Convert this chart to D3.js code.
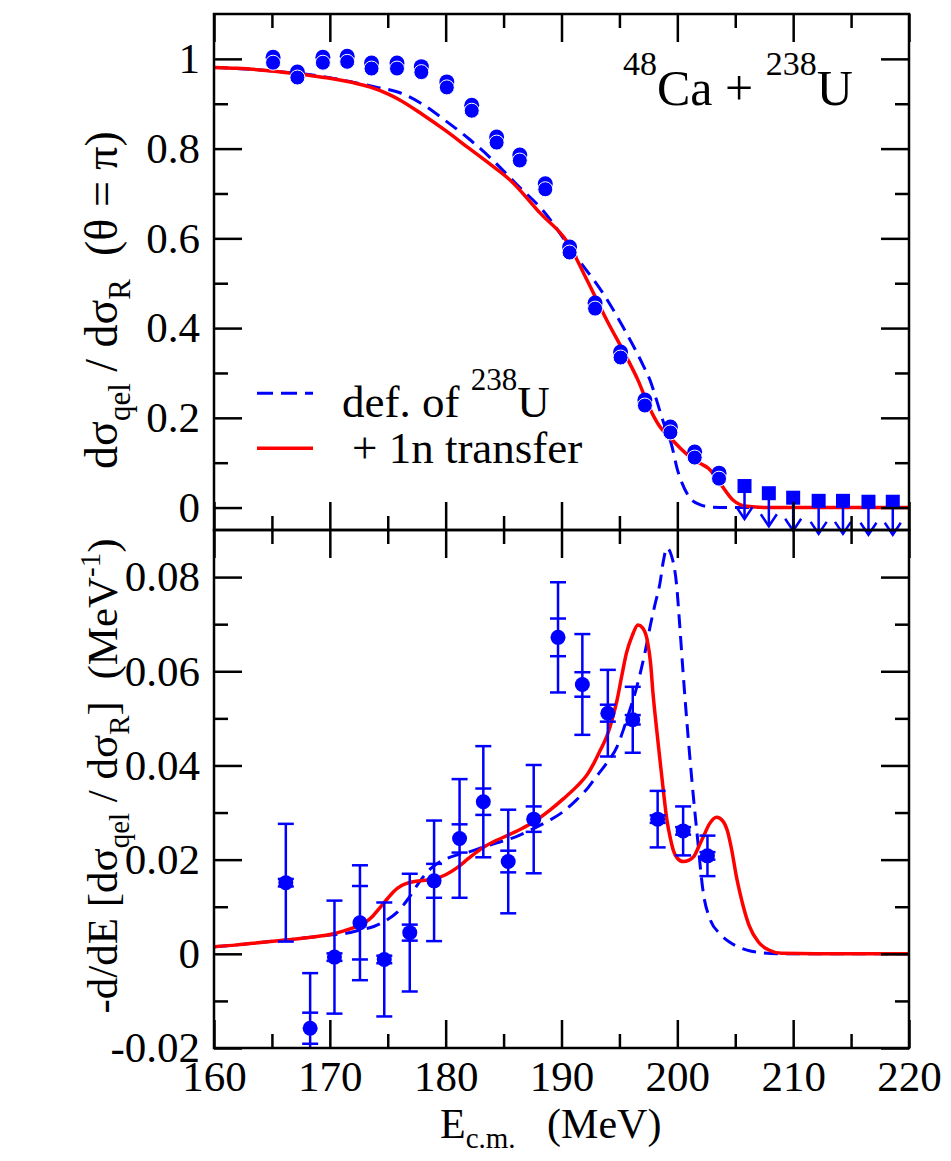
<!DOCTYPE html>
<html><head><meta charset="utf-8">
<script src="https://cdn.jsdelivr.net/npm/d3@7"></script>
<style>
body{margin:0;background:#fff}
svg{display:block}
svg text{font-family:"Liberation Serif","Tinos","Nimbus Roman","Times New Roman",Times,"DejaVu Serif",serif !important;fill:#000}
</style>
</head><body>
<svg id="c" width="951" height="1161"></svg>
<script>
// ---------- DATA ----------
// Top panel: measured quasi-elastic excitation function
const topE = [165.1,167.2,169.4,171.5,173.6,175.8,177.9,180.1,182.25,184.4,186.4,188.6,190.7,192.9,195.1,197.2,199.4,201.5,203.6];
const topR = [0.997,0.964,0.997,0.999,0.984,0.984,0.976,0.942,0.890,0.819,0.779,0.715,0.574,0.449,0.340,0.233,0.173,0.117,0.070];
// Top panel: upper limits
const limE = [205.8,207.9,210.0,212.2,214.3,216.5,218.6];
const limR = [0.048,0.032,0.022,0.015,0.015,0.013,0.013];
// Top panel theory curves
const defTopE = [160,165,170,172,174,176,178,180,182,184,186.1,188.4,191.3,193.6,195.3,197.1,197.7,198.2,198.8,199.5,200.0,200.4,201.1,202.0,203.0,204.3,220];
const defTopR = [0.981,0.973,0.958,0.948,0.937,0.925,0.899,0.862,0.822,0.776,0.721,0.662,0.558,0.477,0.403,0.314,0.280,0.240,0.190,0.140,0.085,0.055,0.021,0.006,0.001,0,0];
const oneTopE = [160,162,165,168,170,172,173.5,175,176,178,180,182,184,185.6,188.2,190.5,192.2,193.9,195.6,196.6,197.6,198.5,199.4,200.2,201.1,202.0,202.7,203.7,204.8,206.0,208.0,220];
const oneTopR = [0.981,0.979,0.973,0.964,0.957,0.947,0.937,0.922,0.909,0.876,0.840,0.801,0.762,0.729,0.655,0.592,0.507,0.418,0.336,0.284,0.222,0.180,0.155,0.134,0.113,0.098,0.087,0.054,0.017,0.003,0,0];

// Bottom panel: barrier distribution data
const botE = [166.2,168.3,170.4,172.6,174.7,176.9,179.0,181.2,183.25,185.4,187.6,189.7,191.8,194.0,196.15,198.3,200.5,202.6];
const botD = [0.0151,-0.0158,-0.0007,0.0066,-0.0012,0.0045,0.0155,0.0245,0.0323,0.0196,0.0286,0.0672,0.0572,0.0511,0.0497,0.0286,0.0261,0.0208];
const botErrOuter = [0.0125,0.0117,0.0120,0.0122,0.0121,0.0125,0.0128,0.0126,0.0118,0.0110,0.0115,0.0117,0.0107,0.0092,0.0070,0.0060,0.0052,0.0043];
const botErrInner = [0.0008,0.0033,0.0008,0.0078,0.0008,0.0017,0.0036,0.0030,0.0028,0.0023,0.0027,0.0040,0.0026,0.0018,0.0010,0.0008,0.0008,0.0008];
// Bottom panel theory curves
const defBotE = [160,162,164,166,168,170,171.5,172.5,173.8,174.8,175.8,176.8,177.8,178.8,179.8,181,182.1,183.25,184.6,186.1,187.5,189,190.2,191.3,192.2,193,193.9,194.8,195.4,195.9,196.4,196.8,197.25,197.65,198.1,198.5,198.8,199.1,199.5,199.95,200.2,200.5,200.8,201.1,201.4,201.7,202.25,202.8,203.7,204.5,205.4,206.3,207.1,209,220];
const defBotD = [0.0015,0.0019,0.0024,0.0029,0.0034,0.0040,0.0044,0.0050,0.0058,0.0070,0.0088,0.0118,0.0155,0.0183,0.0199,0.0210,0.0217,0.0227,0.0237,0.0249,0.0265,0.0284,0.0303,0.0327,0.0350,0.0376,0.0405,0.0440,0.0480,0.0518,0.0558,0.0596,0.0645,0.0695,0.0745,0.0787,0.0835,0.0862,0.0845,0.0780,0.0700,0.0596,0.0500,0.0412,0.0330,0.0256,0.0128,0.0075,0.0042,0.0025,0.0013,0.0006,0.0003,0,0];
const oneBotE = [160,162,164,166,168,170,171,172,173,173.7,174.3,175,175.5,176.2,177.2,178.2,179,180,181,182,183.25,184.3,185.4,186.5,187.6,189,190.2,191.3,192.2,192.8,193.4,193.9,194.4,194.8,195.2,195.6,196.1,196.6,197.0,197.4,197.7,197.9,198.2,198.5,198.8,199.1,199.4,199.65,200.0,200.5,201.0,201.4,201.8,202.25,202.8,203.4,203.9,204.3,204.7,205.1,205.4,205.7,206.2,207,208,209,212,220];
const oneBotD = [0.0015,0.0019,0.0024,0.0029,0.0034,0.0041,0.0047,0.0055,0.0066,0.0080,0.0097,0.0118,0.0132,0.0145,0.0153,0.0156,0.0159,0.0168,0.0183,0.0203,0.0226,0.0240,0.0252,0.0265,0.0280,0.0305,0.0330,0.0355,0.0380,0.0405,0.0435,0.0461,0.0500,0.0539,0.0590,0.0638,0.0675,0.0698,0.0692,0.0666,0.0615,0.0553,0.0480,0.0412,0.0345,0.0284,0.0245,0.0220,0.0203,0.0196,0.0199,0.0206,0.0225,0.0249,0.0277,0.0290,0.0283,0.0263,0.0220,0.0164,0.0130,0.0100,0.0060,0.0025,0.0007,0.0001,0,0];

// Ticks
const xMajor = [160,170,180,190,200,210,220];
const xMinor = [165,175,185,195,205,215];
const xLabels = ["160","170","180","190","200","210","220"];
const yTopMajor = [0,0.2,0.4,0.6,0.8,1];
const yTopMinor = [0.1,0.3,0.5,0.7,0.9];
const yTopLabels = ["0","0.2","0.4","0.6","0.8","1"];
const yBotMajor = [-0.02,0,0.02,0.04,0.06,0.08];
const yBotMinor = [-0.01,0.01,0.03,0.05,0.07];
const yBotLabels = ["-0.02","0","0.02","0.04","0.06","0.08"];

// ---------- LAYOUT ----------
const FONT='"Liberation Serif","Tinos","Nimbus Roman","Times New Roman",Times,"DejaVu Serif",serif';
const L=214,R=909,T1=14,B1=530,T2=530,B2=1048;
const BLUE="#0000ff", RED="#ff0000";
const svg=d3.select("#c");
const x=d3.scaleLinear().domain([160,220]).range([L,R]);
const yT=d3.scaleLinear().domain([-0.05,1.1]).range([B1,T1]);
const yB=d3.scaleLinear().domain([-0.02,0.09]).range([B2,T2]);

svg.append("defs").append("clipPath").attr("id","clipB")
  .append("rect").attr("x",L).attr("y",T2).attr("width",R-L).attr("height",B2-T2);
svg.select("defs").append("clipPath").attr("id","clipT")
  .append("rect").attr("x",L).attr("y",T1).attr("width",R-L).attr("height",B1-T1);

function styleAxis(g){
  g.attr("font-family",FONT);
  g.select(".domain").remove();
  g.selectAll(".tick line").attr("stroke","#000").attr("stroke-width",2.5);
  g.selectAll(".tick text").style("font-size","43px").attr("fill","#000");
}
function panelAxes(y,top,bot,major,minor,labels){
  const MJ=28, MN=14;
  [[d3.axisBottom,bot],[d3.axisTop,top]].forEach(([f,pos])=>{
    svg.append("g").attr("transform",`translate(0,${pos})`).call(f(x).tickValues(xMajor).tickSize(-MJ).tickFormat("")).call(styleAxis);
    svg.append("g").attr("transform",`translate(0,${pos})`).call(f(x).tickValues(xMinor).tickSize(-MN).tickFormat("")).call(styleAxis);
  });
  svg.append("g").attr("transform",`translate(${L},0)`).call(d3.axisLeft(y).tickValues(major).tickSize(-MJ).tickPadding(14).tickFormat((d,i)=>labels[i])).call(styleAxis);
  svg.append("g").attr("transform",`translate(${L},0)`).call(d3.axisLeft(y).tickValues(minor).tickSize(-MN).tickFormat("")).call(styleAxis);
  svg.append("g").attr("transform",`translate(${R},0)`).call(d3.axisRight(y).tickValues(major).tickSize(-MJ).tickFormat("")).call(styleAxis);
  svg.append("g").attr("transform",`translate(${R},0)`).call(d3.axisRight(y).tickValues(minor).tickSize(-MN).tickFormat("")).call(styleAxis);
  svg.append("rect").attr("x",L).attr("y",top).attr("width",R-L).attr("height",bot-top)
    .attr("fill","none").attr("stroke","#000").attr("stroke-width",2.5);
}

// ---------- TOP PANEL ----------
const lineT=d3.line().x(d=>x(d[0])).y(d=>yT(d[1])).curve(d3.curveMonotoneX);
const gT=svg.append("g").attr("clip-path","url(#clipT)");
gT.append("path").attr("d",lineT(defTopE.map((e,i)=>[e,defTopR[i]])))
  .attr("fill","none").attr("stroke",BLUE).attr("stroke-width",3).attr("stroke-dasharray","14,8");
gT.append("path").attr("d",lineT(oneTopE.map((e,i)=>[e,oneTopR[i]])))
  .attr("fill","none").attr("stroke",RED).attr("stroke-width",3.5);

const pts=svg.append("g");
topE.forEach((e,i)=>{
  const cx=x(e), cy=yT(topR[i]);
  pts.append("circle").attr("cx",cx).attr("cy",cy-3).attr("r",7.5).attr("fill",BLUE);
  pts.append("circle").attr("cx",cx).attr("cy",cy+2.5).attr("r",7.5).attr("fill",BLUE).attr("stroke","#fff").attr("stroke-width",1);
});
limE.forEach((e,i)=>{
  const cx=x(e), cy=yT(limR[i]);
  const g=svg.append("g").attr("stroke",BLUE).attr("stroke-width",2.5).attr("fill","none");
  g.append("line").attr("x1",cx).attr("x2",cx).attr("y1",cy).attr("y2",cy+33);
  g.append("path").attr("d",`M${cx-8},${cy+21}L${cx},${cy+33}L${cx+8},${cy+21}`);
  svg.append("rect").attr("x",cx-7).attr("y",cy-7).attr("width",14).attr("height",14).attr("fill",BLUE);
});

// ---------- BOTTOM PANEL ----------
const lineB=d3.line().x(d=>x(d[0])).y(d=>yB(d[1])).curve(d3.curveMonotoneX);
const gB=svg.append("g").attr("clip-path","url(#clipB)");
gB.append("path").attr("d",lineB(defBotE.map((e,i)=>[e,defBotD[i]])))
  .attr("fill","none").attr("stroke",BLUE).attr("stroke-width",3).attr("stroke-dasharray","14,8");
gB.append("path").attr("d",lineB(oneBotE.map((e,i)=>[e,oneBotD[i]])))
  .attr("fill","none").attr("stroke",RED).attr("stroke-width",3.5);
const gE=gB.append("g").attr("stroke",BLUE).attr("stroke-width",2.5);
botE.forEach((e,i)=>{
  const cx=x(e), v=botD[i];
  const t=yB(v+botErrOuter[i]), b=yB(v-botErrOuter[i]);
  gE.append("line").attr("x1",cx).attr("x2",cx).attr("y1",t).attr("y2",b);
  [t,b,yB(v+botErrInner[i]),yB(v-botErrInner[i])].forEach(yy=>{
    gE.append("line").attr("x1",cx-8).attr("x2",cx+8).attr("y1",yy).attr("y2",yy);
  });
  gB.append("circle").attr("cx",cx).attr("cy",yB(v)).attr("r",7.5).attr("fill",BLUE);
});

panelAxes(yT,T1,B1,yTopMajor,yTopMinor,yTopLabels);
panelAxes(yB,T2,B2,yBotMajor,yBotMinor,yBotLabels);
svg.append("g").attr("transform",`translate(0,${B2})`)
  .call(d3.axisBottom(x).tickValues(xMajor).tickSize(0).tickPadding(12).tickFormat((d,i)=>xLabels[i])).call(styleAxis);

// ---------- TEXT ----------
const xt=svg.append("text").attr("x",440).attr("y",1138).style("font-size","42px");
xt.append("tspan").text("E");
xt.append("tspan").attr("dy",10).style("font-size","29px").text("c.m.");
xt.append("tspan").attr("dy",-10).text("\u00a0\u00a0\u00a0(MeV)");

const yt1=svg.append("text").attr("transform","translate(117,300) rotate(-90)").attr("text-anchor","middle").style("font-size","46px");
yt1.append("tspan").text("d\u03c3");
yt1.append("tspan").attr("dy",13).style("font-size","31px").text("qel");
yt1.append("tspan").attr("dy",-13).text(" / d\u03c3");
yt1.append("tspan").attr("dy",13).style("font-size","31px").text("R");
yt1.append("tspan").attr("dy",-13).text("\u00a0\u00a0(\u03b8 = \u03c0)");

const yt2=svg.append("text").attr("transform","translate(117,776) rotate(-90)").attr("text-anchor","middle").style("font-size","43px");
yt2.append("tspan").text("-d/dE [d\u03c3");
yt2.append("tspan").attr("dy",12).style("font-size","29px").text("qel");
yt2.append("tspan").attr("dy",-12).text(" / d\u03c3");
yt2.append("tspan").attr("dy",12).style("font-size","29px").text("R");
yt2.append("tspan").attr("dy",-12).text("]\u00a0\u00a0(MeV");
yt2.append("tspan").attr("dy",-17).style("font-size","29px").text("-1");
yt2.append("tspan").attr("dy",17).text(")");

const rl=svg.append("text").attr("x",623).attr("y",105).style("font-size","50px");
rl.append("tspan").attr("dy",-30).style("font-size","34px").text("48");
rl.append("tspan").attr("dy",30).text("Ca + ");
rl.append("tspan").attr("dy",-30).style("font-size","34px").text("238");
rl.append("tspan").attr("dy",30).text("U");

svg.append("line").attr("x1",257).attr("x2",313).attr("y1",yT(0.255)).attr("y2",yT(0.255))
  .attr("stroke",BLUE).attr("stroke-width",3).attr("stroke-dasharray","16,8");
svg.append("line").attr("x1",257).attr("x2",313).attr("y1",yT(0.132)).attr("y2",yT(0.132))
  .attr("stroke",RED).attr("stroke-width",3.5);
const lg1=svg.append("text").attr("x",342).attr("y",417).style("font-size","45px");
lg1.append("tspan").text("def. of ");
lg1.append("tspan").attr("dy",-27).style("font-size","31px").text("238");
lg1.append("tspan").attr("dy",27).text("U");
svg.append("text").attr("x",352).attr("y",463).style("font-size","45px").text("+ 1n transfer");
</script>
</body></html>
